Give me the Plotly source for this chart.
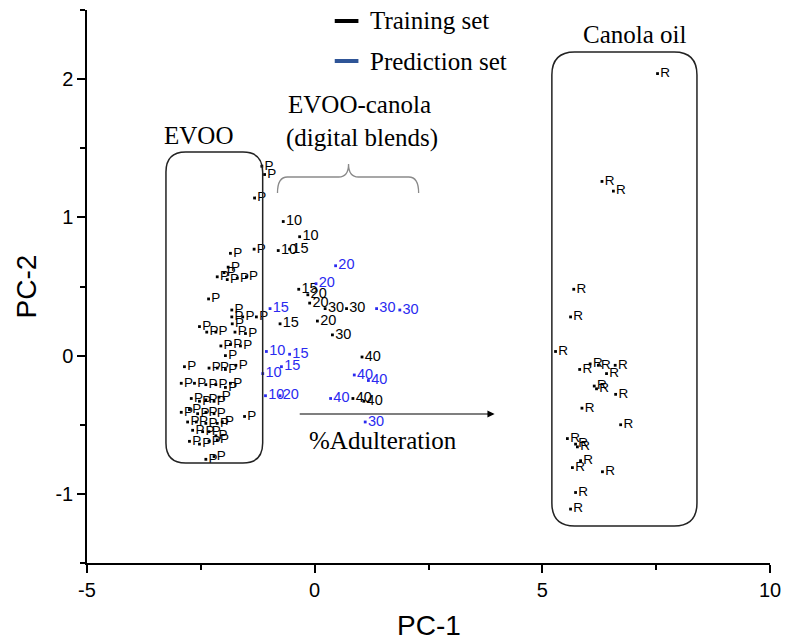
import plotly.graph_objects as go

# ---------------- data ----------------
evoo_x = [-1.16, -1.10, -1.32, -1.85, -1.33, -1.90, -1.99, -2.14, -1.92, -1.70, -1.50,
          -2.33, -1.82, -1.82, -1.58, -1.28, -2.53, -2.37, -2.17, -1.81, -1.75, -1.52,
          -2.06, -1.85, -1.63, -1.96, -2.86, -2.32, -2.14, -1.96, -1.73, -2.93, -2.64,
          -2.39, -2.17, -1.96, -1.85, -2.71, -2.53, -2.39, -2.21, -2.10, -2.93, -2.75,
          -2.57, -2.39, -2.21, -1.54, -2.79, -2.60, -2.39, -2.14, -2.03, -2.68, -2.46,
          -2.32, -2.17, -2.75, -2.53, -2.32, -2.14, -2.39, -2.21]
evoo_y = [1.37, 1.31, 1.14, 0.74, 0.77, 0.64, 0.60, 0.57, 0.55, 0.56, 0.57,
          0.41, 0.33, 0.28, 0.28, 0.28, 0.21, 0.17, 0.17, 0.23, 0.17, 0.16,
          0.07, 0.08, 0.07, 0.00, -0.08, -0.09, -0.09, -0.10, -0.07, -0.20, -0.20,
          -0.21, -0.21, -0.23, -0.20, -0.31, -0.33, -0.32, -0.33, -0.30, -0.41, -0.39,
          -0.42, -0.41, -0.42, -0.44, -0.48, -0.48, -0.49, -0.49, -0.48, -0.54, -0.55,
          -0.55, -0.58, -0.62, -0.64, -0.62, -0.61, -0.75, -0.73]

canola_x = [7.53, 6.31, 6.56, 5.69, 5.62, 5.29, 5.82, 6.05, 6.23, 6.41, 6.60, 6.14,
            6.19, 6.61, 5.87, 6.72, 5.55, 5.73, 5.77, 5.84, 5.66, 6.32, 5.73, 5.62]
canola_y = [2.04, 1.26, 1.19, 0.48, 0.28, 0.03, -0.10, -0.06, -0.07, -0.13, -0.07, -0.22,
            -0.24, -0.28, -0.38, -0.50, -0.60, -0.64, -0.66, -0.76, -0.81, -0.84, -0.99, -1.11]

train_x = [-0.69, -0.33, -0.80, -0.55, -0.35, -0.15, -0.11, 0.23, 0.70, -0.76, 0.06, 0.39, 1.04, 0.84, 1.08]
train_y = [0.97, 0.86, 0.76, 0.77, 0.48, 0.44, 0.38, 0.34, 0.34, 0.23, 0.25, 0.15, -0.01, -0.31, -0.33]
train_lbl = ["10", "10", "10", "15", "15", "20", "20", "30", "30", "15", "20", "30", "40", "40", "40"]

pred_x = [0.46, 0.03, -0.98, 1.36, 1.87, -1.06, -0.55, -1.14, -0.73, 0.87, 1.18, -1.08, -0.76, 0.35, 1.11]
pred_y = [0.65, 0.52, 0.34, 0.34, 0.33, 0.03, 0.01, -0.13, -0.08, -0.14, -0.18, -0.29, -0.29, -0.31, -0.48]
pred_lbl = ["20", "20", "15", "30", "30", "10", "15", "10", "15", "40", "40", "10", "20", "40", "30"]

x_ticks = [-5, 0, 5, 10]
y_ticks = [-1, 0, 1, 2]

# ---------------- layout helpers (pixel -> data) ----------------
W, H = 791, 644
ML, MR, MT, MB = 87, 12, 10, 81
X0, X1, Y0, Y1 = -5, 10, -1.5, 2.5
PW, PH = W - ML - MR, H - MT - MB


def px2x(px):
    return X0 + (px - ML) / PW * (X1 - X0)


def px2y(py):
    return Y1 - (py - MT) / PH * (Y1 - Y0)


BLUE = "#2a2af0"
SANS = "Liberation Sans, Arial, sans-serif"
SERIF = "Liberation Serif, Times New Roman, serif"

fig = go.Figure()

fig.add_trace(go.Scatter(x=evoo_x, y=evoo_y, mode="markers+text", text=["P"] * len(evoo_x),
                         textposition="middle right",
                         marker=dict(symbol="square", size=2.8, color="black"),
                         textfont=dict(family=SANS, size=13.5, color="black"),
                         cliponaxis=False, showlegend=False, hoverinfo="skip"))
fig.add_trace(go.Scatter(x=canola_x, y=canola_y, mode="markers+text", text=["R"] * len(canola_x),
                         textposition="middle right",
                         marker=dict(symbol="square", size=2.8, color="black"),
                         textfont=dict(family=SANS, size=13.5, color="black"),
                         cliponaxis=False, showlegend=False, hoverinfo="skip"))
fig.add_trace(go.Scatter(x=train_x, y=train_y, mode="markers+text", text=train_lbl,
                         textposition="middle right",
                         marker=dict(symbol="square", size=2.8, color="black"),
                         textfont=dict(family=SANS, size=14.5, color="black"),
                         cliponaxis=False, showlegend=False, hoverinfo="skip"))
fig.add_trace(go.Scatter(x=pred_x, y=pred_y, mode="markers+text", text=pred_lbl,
                         textposition="middle right",
                         marker=dict(symbol="square", size=2.8, color=BLUE),
                         textfont=dict(family=SANS, size=14.5, color=BLUE),
                         cliponaxis=False, showlegend=False, hoverinfo="skip"))


def rounded_rect(x0p, y0p, x1p, y1p, r):
    pts = []
    pts.append(f"M {px2x(x0p + r)},{px2y(y0p)}")
    pts.append(f"L {px2x(x1p - r)},{px2y(y0p)}")
    pts.append(f"Q {px2x(x1p)},{px2y(y0p)} {px2x(x1p)},{px2y(y0p + r)}")
    pts.append(f"L {px2x(x1p)},{px2y(y1p - r)}")
    pts.append(f"Q {px2x(x1p)},{px2y(y1p)} {px2x(x1p - r)},{px2y(y1p)}")
    pts.append(f"L {px2x(x0p + r)},{px2y(y1p)}")
    pts.append(f"Q {px2x(x0p)},{px2y(y1p)} {px2x(x0p)},{px2y(y1p - r)}")
    pts.append(f"L {px2x(x0p)},{px2y(y0p + r)}")
    pts.append(f"Q {px2x(x0p)},{px2y(y0p)} {px2x(x0p + r)},{px2y(y0p)} Z")
    return " ".join(pts)


shapes = []
shapes.append(dict(type="path", xref="x", yref="y", path=rounded_rect(167, 152, 265, 463, 20),
                   line=dict(color="#222", width=1.5)))
shapes.append(dict(type="path", xref="x", yref="y", path=rounded_rect(558, 52, 705, 526, 23),
                   line=dict(color="#222", width=1.5)))

# brace
bx0, bx1, bxm = 280, 423, 352
by_end, by_mid, by_tip = 193, 177, 164
brace = (f"M {px2x(bx0)},{px2y(by_end)} Q {px2x(bx0)},{px2y(by_mid)} {px2x(bx0 + 10)},{px2y(by_mid)} "
         f"L {px2x(bxm - 10)},{px2y(by_mid)} Q {px2x(bxm)},{px2y(by_mid)} {px2x(bxm)},{px2y(by_tip)} "
         f"Q {px2x(bxm)},{px2y(by_mid)} {px2x(bxm + 10)},{px2y(by_mid)} "
         f"L {px2x(bx1 - 10)},{px2y(by_mid)} Q {px2x(bx1)},{px2y(by_mid)} {px2x(bx1)},{px2y(by_end)}")
shapes.append(dict(type="path", xref="x", yref="y", path=brace, line=dict(color="#8a8a8a", width=1.3)))

# legend lines
shapes.append(dict(type="line", xref="x", yref="y", x0=px2x(338), x1=px2x(362), y0=px2y(21), y1=px2y(21),
                   line=dict(color="black", width=4)))
shapes.append(dict(type="line", xref="x", yref="y", x0=px2x(338), x1=px2x(362), y0=px2y(61), y1=px2y(61),
                   line=dict(color="#2f5597", width=4)))

annotations = []


def label(txt, cx, cy, size=25, xanchor="center"):
    annotations.append(dict(text=txt, x=px2x(cx), y=px2y(cy), xref="x", yref="y", showarrow=False,
                            xanchor=xanchor, yanchor="middle",
                            font=dict(family=SERIF, size=size, color="black")))


label("Training set", 372, 20, 25, "left")
label("Prediction set", 372, 61, 25, "left")
label("Canola oil", 642, 34, 25)
label("EVOO", 200, 135, 25)
label("EVOO-canola", 363, 104, 25)
label("(digital blends)", 366, 138, 25)
label("%Adulteration", 387, 440, 25)

# arrow
annotations.append(dict(x=px2x(500), y=px2y(414), ax=px2x(301), ay=px2y(414), xref="x", yref="y",
                        axref="x", ayref="y", showarrow=True, arrowhead=2, arrowsize=1.2,
                        arrowwidth=1.2, arrowcolor="black", text=""))

# axis titles
annotations.append(dict(text="PC-1", x=0.5, y=0, xref="paper", yref="paper", yshift=-62,
                        showarrow=False, xanchor="center", yanchor="middle",
                        font=dict(family=SANS, size=28, color="black")))
annotations.append(dict(text="PC-2", x=0, y=0.5, xref="paper", yref="paper", xshift=-61,
                        showarrow=False, textangle=-90, xanchor="center", yanchor="middle",
                        font=dict(family=SANS, size=28, color="black")))

fig.update_layout(
    width=W, height=H,
    margin=dict(l=ML, r=MR, t=MT, b=MB),
    paper_bgcolor="white", plot_bgcolor="white",
    shapes=shapes, annotations=annotations,
    showlegend=False,
)

axis_common = dict(showline=True, linecolor="black", linewidth=1.5, ticks="outside", ticklen=8,
                   tickwidth=1.5, tickcolor="black", showgrid=False, zeroline=False,
                   tickfont=dict(family=SANS, size=20, color="black"))
fig.update_xaxes(range=[X0, X1], tickvals=x_ticks, ticktext=[str(v) for v in x_ticks],
                 minor=dict(dtick=2.5, tick0=-5, ticks="outside", ticklen=5, tickcolor="black", tickwidth=1.5),
                 **axis_common)
fig.update_yaxes(range=[Y0, Y1], tickvals=y_ticks, ticktext=[str(v) for v in y_ticks],
                 minor=dict(dtick=0.5, tick0=0, ticks="outside", ticklen=5, tickcolor="black", tickwidth=1.5),
                 **axis_common)

fig.write_html("out.html")
